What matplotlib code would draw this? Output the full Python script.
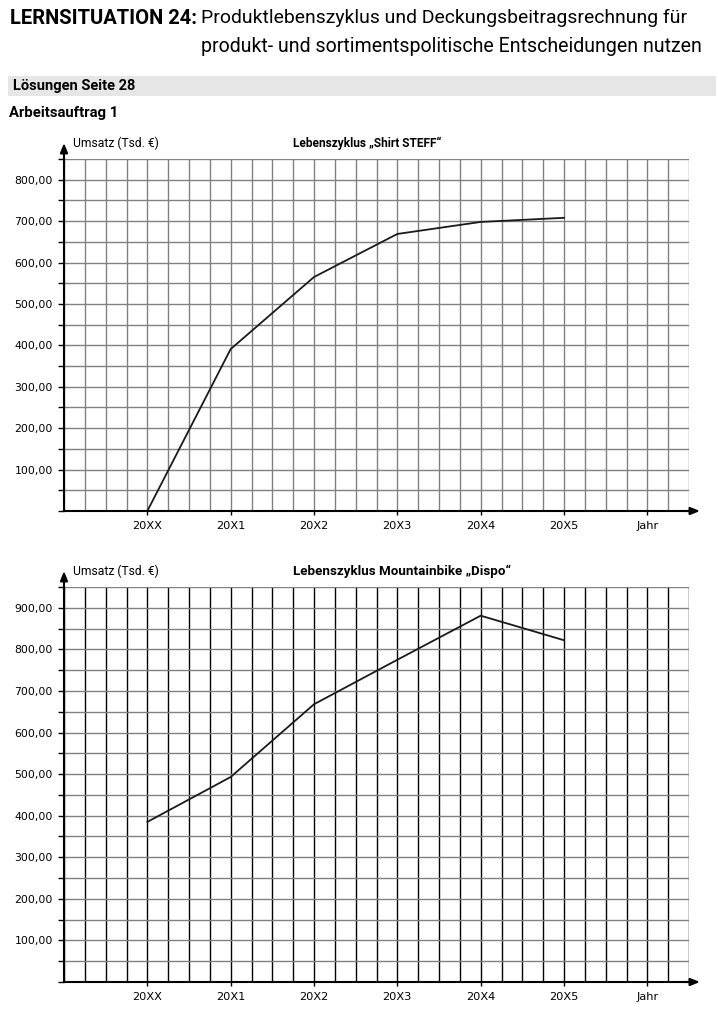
import matplotlib
matplotlib.use("Agg")
import matplotlib.pyplot as plt
from matplotlib.patches import Rectangle
from matplotlib.ticker import FuncFormatter
import numpy as np

# ---- data ----
years = ["20XX", "20X1", "20X2", "20X3", "20X4", "20X5"]
x_labels = ["20XX", "20X1", "20X2", "20X3", "20X4", "20X5", "Jahr"]
shirt_umsatz = [0, 391, 565, 669, 698, 708]
bike_umsatz = [385, 493, 668, 775, 881, 822]

W, H = 718, 1022
fig = plt.figure(figsize=(W / 100, H / 100), dpi=100)
fig.patch.set_facecolor("white")
renderer = fig.canvas.get_renderer()

COND = ["Roboto", "DejaVu Sans"]


def fx(x):
    return x / W


def fy(y):
    return 1 - y / H


def ftext(x, y, s, target_w=None, boost=1.0, **kw):
    t = fig.text(fx(x), fy(y), s, **kw)
    if target_w is not None:
        w = t.get_window_extent(renderer).width
        t.set_fontsize(t.get_fontsize() * target_w / w * boost)
    return t


# ---- header ----
ftext(10, 18, "LERNSITUATION 24:", target_w=187, fontsize=15, fontweight="bold", family=COND, va="center", ha="left")
ftext(201, 18, "Produktlebenszyklus und Deckungsbeitragsrechnung für", target_w=487, fontsize=15, family=COND, va="center", ha="left")
ftext(201, 47, "produkt- und sortimentspolitische Entscheidungen nutzen", target_w=500, fontsize=15, family=COND, va="center", ha="left")
fig.patches.append(Rectangle((fx(8), fy(96)), fx(708), 20 / H, transform=fig.transFigure,
                             facecolor="#e6e6e6", edgecolor="none", zorder=0))
ftext(13, 86, "Lösungen Seite 28", target_w=115, boost=1.06, fontsize=10, fontweight="bold", family=COND, va="center", ha="left")
ftext(9, 113, "Arbeitsauftrag 1", target_w=102, boost=1.08, fontsize=10.5, fontweight="bold", family=COND, va="center", ha="left")


def make_chart(top_px, base_px, ymax, values, title, title_w, vgrid_color):
    left, right = 64, 689
    ax = fig.add_axes([fx(left), fy(base_px), (right - left) / W, (base_px - top_px) / H])
    ax.set_xlim(0, 7.5)
    ax.set_ylim(0, ymax)
    for s in ["top", "right"]:
        ax.spines[s].set_visible(False)
    for s in ["left", "bottom"]:
        ax.spines[s].set_linewidth(1.5)
        ax.spines[s].set_color("black")
        ax.spines[s].set_zorder(5)
    ax.set_xticks(np.arange(1, 8))
    ax.set_xticklabels(x_labels)
    ax.set_xticks(np.arange(0, 7.51, 0.25), minor=True)
    ax.set_yticks(np.arange(100, ymax - 49, 100))
    ax.set_yticks(np.arange(0, ymax + 1, 50), minor=True)
    ax.yaxis.set_major_formatter(FuncFormatter(lambda v, p: f"{v:.2f}".replace(".", ",")))
    ax.tick_params(axis="x", which="major", length=3, width=1, pad=4, labelsize=8.2, colors="black")
    ax.tick_params(axis="x", which="minor", length=0)
    ax.tick_params(axis="y", which="both", length=4, width=1, pad=4, labelsize=7.8)
    ax.xaxis.grid(True, which="both", color=vgrid_color, lw=1.0)
    ax.yaxis.grid(True, which="both", color="#808080", lw=1.0)
    ax.set_axisbelow(True)
    xs = np.arange(1, len(values) + 1)
    ax.plot(xs, values, color="#1a1a1a", lw=1.3, zorder=4, clip_on=False)
    # axis arrows
    ax.annotate("", xy=(0, 1 + 16 / (base_px - top_px)),
                xytext=(0, 0.99), xycoords="axes fraction",
                arrowprops=dict(arrowstyle="-|>,head_length=0.55,head_width=0.22", color="black", lw=1.5,
                                shrinkA=0, shrinkB=0))
    ax.annotate("", xy=(1 + 11 / (right - left), 0), xytext=(0.99, 0), xycoords="axes fraction",
                arrowprops=dict(arrowstyle="-|>,head_length=0.55,head_width=0.22", color="black", lw=1.5,
                                shrinkA=0, shrinkB=0))
    ftext(73, top_px - 16, "Umsatz (Tsd. €)", target_w=85, fontsize=8.5, family=COND, va="center", ha="left")
    ftext(293, top_px - 16, title, target_w=title_w, boost=1.08, fontsize=8.5, fontweight="bold", family=COND, va="center", ha="left")
    return ax


make_chart(159, 511, 850, shirt_umsatz, "Lebenszyklus \u201eShirt STEFF\u201c", 137, "#808080")
make_chart(587, 982, 950, bike_umsatz, "Lebenszyklus Mountainbike \u201eDispo\u201c", 200, "black")

fig.savefig("out.png", dpi=100, facecolor="white")
